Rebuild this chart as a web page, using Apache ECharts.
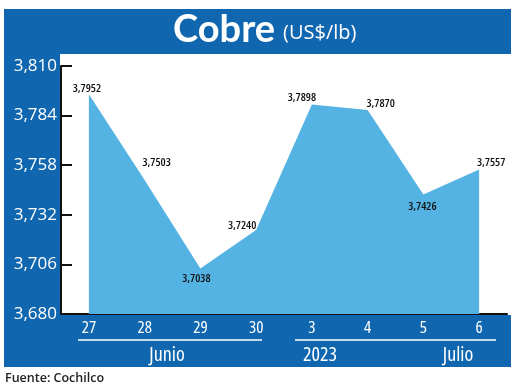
<!DOCTYPE html>
<html><head><meta charset="utf-8">
<script src="https://cdn.jsdelivr.net/npm/echarts@6/dist/echarts.min.js"></script>
<style>html,body{margin:0;padding:0;background:#fff}#c{width:520px;height:389px}</style>
</head><body><div id="c"></div>
<script>
const categories = ['27','28','29','30','3','4','5','6'];
const values = [3.7952, 3.7503, 3.7038, 3.7240, 3.7898, 3.7870, 3.7426, 3.7557];
const yTicks = [3.680, 3.706, 3.732, 3.758, 3.784, 3.810];
const groupLabels = ['Junio', '2023', 'Julio'];
const titleText = 'Cobre';
const unitText = '(US$/lb)';
const sourceText = 'Fuente: Cochilco';

// label offsets (style only)
const labelOffsets = [[-2,-6],[12,-17],[-4,10],[-14,-4],[-10,-7],[13,-6],[-1,12],[12,-7]];

const BLUE = '#1067b0';
const AREA = '#54b3e3';
const OS = "'Open Sans',sans-serif";

const chart = echarts.init(document.getElementById('c'), null, {renderer:'canvas'});
const fmt4 = v => v.toFixed(4).replace('.', ',');
const fmt3 = v => v.toFixed(3).replace('.', ',');

const seriesData = values.map((v, i) => ({
  value: v,
  label: { position: 'inside', offset: labelOffsets[i] }
}));

const grpFont = "condensed 20px " + OS;

chart.setOption({
  animation: false,
  backgroundColor: '#fff',
  title: {
    text: '{a|' + titleText + '} {b|' + unitText + '}',
    left: 168, top: 6,
    textStyle: {
      rich: {
        a: { color: '#fff', fontSize: 38, fontWeight: 'bold', fontFamily: 'Lato, sans-serif' },
        b: { color: '#fff', fontSize: 20, fontWeight: 'normal', fontFamily: OS, padding: [6,0,0,3] }
      }
    }
  },
  graphic: [
    { type: 'rect', z: -10, shape: { x: 4, y: 9, width: 507, height: 358 }, style: { fill: BLUE } },
    { type: 'rect', z: -9, shape: { x: 60, y: 54, width: 451, height: 261 }, style: { fill: '#fff' } },
    { type: 'line', shape: { x1: 78, y1: 340, x2: 262, y2: 340 }, style: { stroke: '#fff', lineWidth: 1.5 } },
    { type: 'line', shape: { x1: 295, y1: 340, x2: 496, y2: 340 }, style: { stroke: '#fff', lineWidth: 1.5 } },
    { type: 'text', x: 167, y: 355, style: { text: groupLabels[0], fill: '#fff', font: grpFont, align: 'center', verticalAlign: 'middle' } },
    { type: 'text', x: 320, y: 355, style: { text: groupLabels[1], fill: '#fff', font: grpFont, align: 'center', verticalAlign: 'middle' } },
    { type: 'text', x: 458, y: 355, style: { text: groupLabels[2], fill: '#fff', font: grpFont, align: 'center', verticalAlign: 'middle' } },
    { type: 'text', x: 5, y: 378, style: { text: sourceText, fill: '#222', font: "600 12.5px " + OS, align: 'left', verticalAlign: 'middle' } }
  ],
  grid: { left: 61, right: 13, top: 66, bottom: 75 },
  xAxis: {
    type: 'category', data: categories, boundaryGap: true,
    axisLine: { lineStyle: { color: '#111', width: 2 } },
    axisTick: { show: false },
    axisLabel: { color: '#fff', fontSize: 17, fontStyle: 'condensed', fontFamily: OS, margin: 6 }
  },
  yAxis: {
    type: 'value', min: yTicks[0], max: yTicks[yTicks.length - 1],
    axisLine: { show: true, lineStyle: { color: '#111', width: 2 } },
    axisTick: { show: true, inside: true, length: 11, lineStyle: { color: '#111', width: 2 }, customValues: yTicks },
    axisLabel: { color: '#fff', fontSize: 17, fontFamily: OS, margin: 4, padding: [4,0,0,0], customValues: yTicks, formatter: v => fmt3(v) },
    splitLine: { show: false }
  },
  series: [{
    type: 'line', data: seriesData,
    symbol: 'circle', symbolSize: 0, showSymbol: true,
    lineStyle: { width: 0 },
    itemStyle: { color: AREA },
    areaStyle: { color: AREA, opacity: 1, origin: 'start' },
    label: { show: true, color: '#111', fontSize: 11.5, fontStyle: 'condensed', fontWeight: 600, fontFamily: OS, formatter: p => fmt4(p.value) },
    z: 3
  }]
});
</script></body></html>
